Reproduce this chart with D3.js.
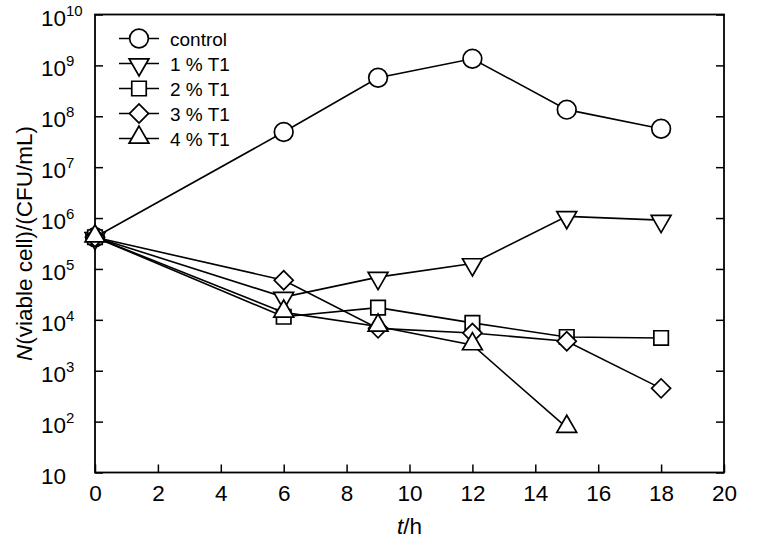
<!DOCTYPE html>
<html>
<head>
<meta charset="utf-8">
<script src="https://cdn.jsdelivr.net/npm/d3@7"></script>
<style>
  body { margin: 0; background: #fff; }
  svg text { font-family: "Liberation Sans", Arial, sans-serif; fill: #000; }
</style>
</head>
<body>
<div id="chart"></div>
<script>
// time points (h)
const hours = [0, 6, 9, 12, 15, 18];

// viable cell counts, CFU/mL
const control = [4.2e5, 4.9e7, 5.7e8, 1.35e9, 1.35e8, 5.7e7];
const t1_1 = [4.2e5, 2.8e4, 6.9e4, 1.28e5, 1.08e6, 9.1e5];
const t1_2 = [4.2e5, 1.15e4, 1.74e4, 8.7e3, 4.6e3, 4.4e3];
const t1_3 = [4.2e5, 6.0e4, 6.8e3, 5.5e3, 3.8e3, 4.5e2];
const t1_4 = [4.2e5, 1.4e4, 7.4e3, 3.2e3, 76];

const seriesNames = ['control', '1 % T1', '2 % T1', '3 % T1', '4 % T1'];
const seriesValues = [control, t1_1, t1_2, t1_3, t1_4];
const seriesMarkers = ['circle', 'down', 'square', 'diamond', 'up'];

const xTicks = [0, 2, 4, 6, 8, 10, 12, 14, 16, 18, 20];
const yTicks = [1e1, 1e2, 1e3, 1e4, 1e5, 1e6, 1e7, 1e8, 1e9, 1e10];

const width = 762, height = 549;
const plotLeft = 95, plotRight = 724, plotTop = 14.5, plotBottom = 472.5;

const svg = d3.select('#chart').append('svg')
    .attr('width', width)
    .attr('height', height);

const x = d3.scaleLinear().domain([0, 20]).range([plotLeft, plotRight]);
const y = d3.scaleLog().domain([10, 1e10]).range([plotBottom, plotTop]);

function markerPath(type) {
    if (type === 'circle') return d3.symbol(d3.symbolCircle, 275)();
    if (type === 'square') return d3.symbol(d3.symbolSquare, 210)();
    if (type === 'diamond') return d3.symbol(d3.symbolSquare, 180)();
    return d3.symbol(d3.symbolTriangle, 170)();
}
function markerTransform(type, px, py) {
    if (type === 'diamond') return `translate(${px},${py}) rotate(45)`;
    if (type === 'down') return `translate(${px},${py + 1}) rotate(180)`;
    if (type === 'up') return `translate(${px},${py - 1})`;
    return `translate(${px},${py})`;
}

// frame
svg.append('rect')
    .attr('x', plotLeft).attr('y', plotTop)
    .attr('width', plotRight - plotLeft).attr('height', plotBottom - plotTop)
    .attr('fill', 'none').attr('stroke', '#000').attr('stroke-width', 1.8);

// axes (ticks inside)
const xAxis = d3.axisBottom(x).tickValues(xTicks).tickSize(-8).tickPadding(13);
svg.append('g').attr('transform', `translate(0,${plotBottom})`).call(xAxis)
    .call(g => g.select('.domain').remove())
    .call(g => g.selectAll('.tick line').attr('stroke-width', 1.5))
    .call(g => g.selectAll('.tick text')
        .style('font-family', '"Liberation Sans", Arial, sans-serif')
        .style('font-size', '22.5px'));

const yAxis = d3.axisLeft(y).tickValues(yTicks).tickSize(-8).tickFormat('');
svg.append('g').attr('transform', `translate(${plotLeft},0)`).call(yAxis)
    .call(g => g.select('.domain').remove())
    .call(g => g.selectAll('.tick line').attr('stroke-width', 1.5));

const yAxisR = d3.axisRight(y).tickValues(yTicks).tickSize(-8).tickFormat('');
svg.append('g').attr('transform', `translate(${plotRight},0)`).call(yAxisR)
    .call(g => g.select('.domain').remove())
    .call(g => g.selectAll('.tick line').attr('stroke-width', 1.5));

// y tick labels, left aligned as powers of ten
const yLab = svg.append('g');
yTicks.forEach(v => {
    const e = Math.round(Math.log10(v));
    const t = yLab.append('text')
        .attr('x', 41).attr('y', y(v) + 11)
        .style('font-size', '22.5px');
    t.append('tspan').text('10');
    if (e !== 1) {
        t.append('tspan').attr('dy', -10).style('font-size', '15px').text(e);
    }
});

// axis titles
const yTitle = svg.append('text')
    .attr('transform', `translate(32,${(plotTop + plotBottom) / 2}) rotate(-90)`)
    .attr('text-anchor', 'middle')
    .style('font-size', '22.5px');
yTitle.append('tspan').style('font-style', 'italic').text('N');
yTitle.append('tspan').text('(viable cell)/(CFU/mL)');

const xTitle = svg.append('text')
    .attr('x', (plotLeft + plotRight) / 2).attr('y', 534)
    .attr('text-anchor', 'middle')
    .style('font-size', '22.5px');
xTitle.append('tspan').style('font-style', 'italic').text('t');
xTitle.append('tspan').text('/h');

// series
const line = d3.line().x(d => x(d[0])).y(d => y(d[1]));

seriesValues.forEach((vals, i) => {
    const pts = vals.map((v, j) => [hours[j], v]);
    svg.append('path')
        .datum(pts)
        .attr('d', line)
        .attr('fill', 'none')
        .attr('stroke', '#000')
        .attr('stroke-width', 1.6);
});

seriesValues.forEach((vals, i) => {
    const type = seriesMarkers[i];
    svg.append('g').selectAll('path')
        .data(vals.map((v, j) => [hours[j], v]))
        .join('path')
        .attr('d', markerPath(type))
        .attr('transform', d => markerTransform(type, x(d[0]), y(d[1])))
        .attr('fill', '#fff')
        .attr('stroke', '#000')
        .attr('stroke-width', 1.7);
});

// legend
const legend = svg.append('g');
seriesNames.forEach((name, i) => {
    const ly = 38.5 + i * 25;
    legend.append('line')
        .attr('x1', 119).attr('x2', 159)
        .attr('y1', ly).attr('y2', ly)
        .attr('stroke', '#000').attr('stroke-width', 1.6);
    legend.append('path')
        .attr('d', markerPath(seriesMarkers[i]))
        .attr('transform', markerTransform(seriesMarkers[i], 139, ly))
        .attr('fill', '#fff').attr('stroke', '#000').attr('stroke-width', 1.7);
    legend.append('text')
        .attr('x', 170).attr('y', ly + 7)
        .style('font-size', '19px')
        .text(name);
});
</script>
</body>
</html>
